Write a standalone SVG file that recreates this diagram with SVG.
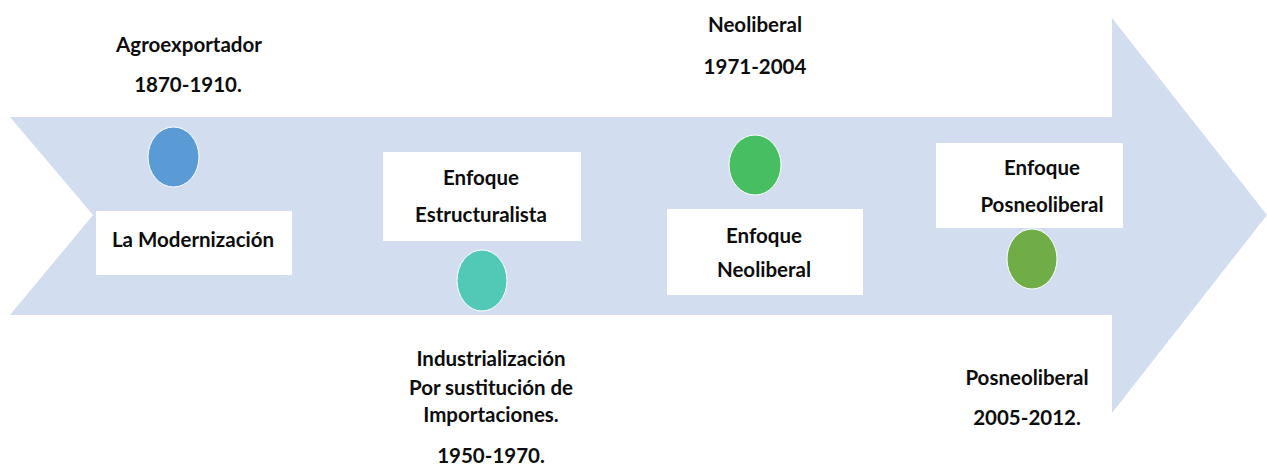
<svg xmlns="http://www.w3.org/2000/svg" width="1267" height="466" viewBox="0 0 1267 466">
<style>
.t{font-family:Lato,"Open Sans","Liberation Sans",sans-serif;font-weight:bold;font-size:20.5px;fill:#0d0d0d;text-anchor:middle}
.box{fill:#fff}
.dot{stroke:#fff;stroke-width:1}
</style>
<rect width="1267" height="466" fill="#fff"/>
<g id="arrow">
<path d="M10,117 L1112,117 L1112,18 L1267,215 L1112,413 L1112,315 L10,315 L93,215 Z" fill="#D2DEEF"/>
</g>
<g id="connectors"></g>
<g id="n1">
<text class="t" x="189" y="52">Agroexportador</text>
<text class="t" x="188" y="92">1870-1910.</text>
<ellipse class="dot" cx="173.5" cy="157" rx="25.5" ry="30" fill="#5B9BD5"/>
<rect class="box" x="96" y="211" width="196" height="64"/>
<text class="t" x="193" y="247">La Modernización</text>
</g>
<g id="n2">
<rect class="box" x="383" y="152" width="198" height="89"/>
<text class="t" x="481" y="185">Enfoque</text>
<text class="t" x="481" y="222">Estructuralista</text>
<ellipse class="dot" cx="482" cy="280.5" rx="25" ry="30.5" fill="#52C9B6"/>
<text class="t" x="491" y="366">Industrialización</text>
<text class="t" x="491" y="395">Por sustitución de</text>
<text class="t" x="491" y="422">Importaciones.</text>
<text class="t" x="491" y="463">1950-1970.</text>
</g>
<g id="n3">
<text class="t" x="755" y="32">Neoliberal</text>
<text class="t" x="755" y="74">1971-2004</text>
<ellipse class="dot" cx="755" cy="165" rx="26" ry="30" fill="#47BE62"/>
<rect class="box" x="667" y="209" width="196" height="86"/>
<text class="t" x="764" y="243">Enfoque</text>
<text class="t" x="764" y="277">Neoliberal</text>
</g>
<g id="n4">
<rect class="box" x="936" y="143" width="187" height="85"/>
<text class="t" x="1042" y="175">Enfoque</text>
<text class="t" x="1042" y="212">Posneoliberal</text>
<ellipse class="dot" cx="1032" cy="259" rx="25" ry="30" fill="#70AD47"/>
<text class="t" x="1027" y="385">Posneoliberal</text>
<text class="t" x="1027" y="425">2005-2012.</text>
</g>
</svg>
